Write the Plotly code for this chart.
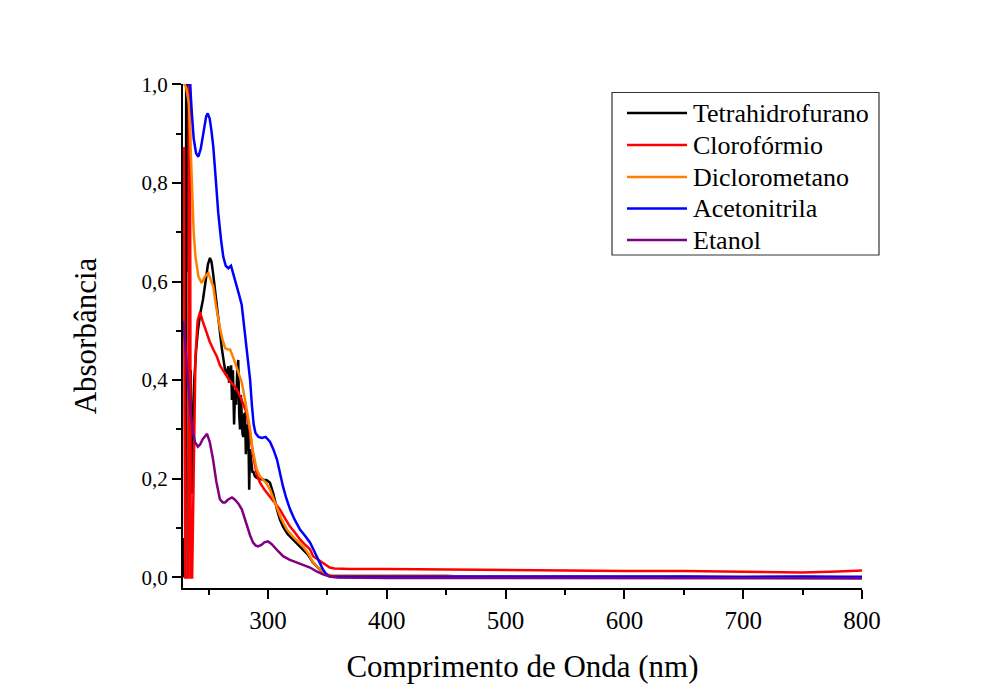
import plotly.graph_objects as go

series_names = ["Tetrahidrofurano", "Clorofórmio", "Diclorometano", "Acetonitrila", "Etanol"]
series_colors = ["#000000", "#FF0000", "#FF8000", "#0000FF", "#800080"]

thf = [(228.6, 0.08), (229.2, 0.0), (229.9, 0.07), (230.5, 0.0), (231.2, 1.0), (231.8, 1.0),
       (232.5, 0.62), (233.1, 1.0), (233.7, 0.95), (234.3, 0.17), (235.0, 0.42), (235.6, 0.20),
       (236.3, 0.17), (237.0, 0.30), (238.0, 0.40), (239.5, 0.46), (241.0, 0.50), (243.0, 0.535),
       (245.3, 0.563), (247.5, 0.60), (249.5, 0.635), (251.2, 0.648), (252.5, 0.640), (253.8, 0.617),
       (256.0, 0.570), (258.0, 0.522), (260.0, 0.485), (261.3, 0.462), (263.0, 0.435), (264.5, 0.412),
       (265.5, 0.415), (266.6, 0.428), (267.3, 0.395), (268.1, 0.40), (269.0, 0.43), (269.7, 0.36),
       (270.5, 0.42), (271.5, 0.31), (272.3, 0.38), (273.2, 0.35), (274.2, 0.42), (275.0, 0.441),
       (275.8, 0.33), (276.5, 0.30), (277.2, 0.37), (277.9, 0.32), (278.6, 0.29), (279.3, 0.285),
       (280.0, 0.33), (280.7, 0.334), (281.4, 0.25), (282.1, 0.28), (282.8, 0.31), (283.5, 0.306),
       (284.2, 0.178), (284.9, 0.26), (285.6, 0.245), (286.3, 0.23), (287.0, 0.212), (287.7, 0.215),
       (289.0, 0.205), (290.5, 0.202), (292.5, 0.200), (294.5, 0.199), (296.5, 0.198), (299.0, 0.197),
       (301.7, 0.192), (304.5, 0.17), (307.6, 0.138), (310.0, 0.118), (312.7, 0.103), (316.5, 0.088),
       (321.0, 0.077), (325.0, 0.067), (329.5, 0.057), (334.0, 0.045), (338.0, 0.030), (342.0, 0.020),
       (346.3, 0.010), (350.0, 0.005), (354.8, 0.002), (360, 0.001), (380, 0.0), (400, 0.0),
       (450, 0.001), (500, 0.0), (550, 0.001), (600, 0.0), (650, 0.001), (700, 0.0), (750, 0.0), (800, 0.001)]

cloroformio = [(228.6, 0.87), (229.3, 0.87), (229.8, 0.33), (230.4, 0.0), (232.8, 0.0), (233.4, 1.0),
               (234.4, 1.0), (235.0, 0.0), (236.2, 0.0), (237.5, 0.25), (239.0, 0.45), (240.8, 0.52),
               (242.8, 0.538), (245.0, 0.52), (248.4, 0.496), (251.0, 0.478), (254.0, 0.462), (257.0, 0.448),
               (259.6, 0.43), (262.5, 0.418), (265.3, 0.407), (268.0, 0.398), (271.0, 0.39), (273.7, 0.381),
               (277.0, 0.365), (280.0, 0.347), (282.0, 0.334), (284.5, 0.30), (287.7, 0.245), (290.5, 0.21),
               (293.3, 0.192), (297.0, 0.178), (301.7, 0.164), (306.0, 0.151), (310.0, 0.138), (314.0, 0.121),
               (318.6, 0.103), (323.0, 0.09), (327.0, 0.077), (331.0, 0.067), (335.4, 0.057), (338.0, 0.043),
               (342.0, 0.036), (346.3, 0.030), (349.0, 0.024), (352.0, 0.020), (356.0, 0.018), (369.0, 0.017),
               (400, 0.017), (450, 0.016), (500, 0.014), (550, 0.014), (600, 0.013), (650, 0.013),
               (700, 0.011), (750, 0.010), (780, 0.012), (800, 0.014)]

diclorometano = [(228.6, 1.0), (230.0, 1.0), (231.5, 0.99), (233.5, 0.96), (234.8, 0.88), (235.8, 0.80),
                 (237.5, 0.70), (239.0, 0.65), (241.5, 0.61), (244.2, 0.597), (247.0, 0.610), (249.8, 0.617),
                 (252.5, 0.60), (254.0, 0.59), (256.0, 0.555), (258.0, 0.525), (259.6, 0.505), (262.0, 0.48),
                 (264.0, 0.465), (266.4, 0.462), (268.1, 0.462), (270.6, 0.447), (273.0, 0.43), (275.5, 0.41),
                 (278.0, 0.395), (280.7, 0.36), (283.0, 0.33), (285.0, 0.30), (287.0, 0.26), (290.5, 0.219),
                 (293.3, 0.205), (296.1, 0.198), (299.0, 0.19), (301.7, 0.178), (304.5, 0.16), (307.6, 0.144),
                 (311.0, 0.12), (316.0, 0.097), (322.0, 0.08), (329.5, 0.063), (334.0, 0.048), (338.0, 0.030),
                 (341.0, 0.022), (344.0, 0.016), (347.0, 0.010), (349.7, 0.006), (355, 0.004), (370, 0.004),
                 (400, 0.004), (450, 0.004), (460, 0.002), (500, 0.002), (600, 0.002), (700, 0.001),
                 (750, 0.002), (800, 0.001)]

acetonitrila = [(231.5, 1.0), (234.5, 1.0), (235.8, 0.947), (237.5, 0.89), (239.5, 0.86), (241.4, 0.853),
                (243.5, 0.87), (246.0, 0.91), (248.0, 0.935), (249.3, 0.941), (251.0, 0.93), (252.5, 0.905),
                (254.0, 0.873), (256.0, 0.81), (258.2, 0.738), (260.5, 0.685), (262.4, 0.650), (264.5, 0.632),
                (266.6, 0.627), (268.9, 0.632), (271.0, 0.615), (273.7, 0.59), (275.5, 0.575), (277.9, 0.553),
                (279.3, 0.52), (282.1, 0.46), (285.0, 0.40), (286.6, 0.346), (288.0, 0.31), (289.5, 0.293),
                (292.0, 0.285), (295.0, 0.283), (298.0, 0.285), (301.7, 0.275), (304.5, 0.26), (307.6, 0.239),
                (310.0, 0.21), (312.7, 0.184), (315.5, 0.16), (318.6, 0.138), (322.5, 0.117), (327.0, 0.097),
                (331.0, 0.085), (335.4, 0.071), (338.0, 0.058), (341.0, 0.043), (343.5, 0.030), (346.3, 0.016),
                (349.0, 0.007), (352.0, 0.002), (360, 0.002), (400, 0.002), (450, 0.002), (500, 0.002),
                (550, 0.003), (600, 0.002), (650, 0.002), (700, 0.001), (750, 0.002), (800, 0.001)]

etanol = [(228.6, 0.52), (229.5, 0.50), (230.5, 0.47), (232.0, 0.42), (233.5, 0.37), (235.0, 0.33),
          (236.5, 0.30), (238.5, 0.275), (241.0, 0.265), (243.0, 0.27), (245.0, 0.28), (248.7, 0.291),
          (251.0, 0.275), (253.8, 0.239), (256.5, 0.195), (259.6, 0.158), (262.0, 0.152), (263.9, 0.152),
          (266.5, 0.158), (269.7, 0.162), (272.0, 0.158), (275.0, 0.15), (278.0, 0.138), (280.0, 0.122),
          (282.4, 0.103), (285.0, 0.085), (287.4, 0.071), (289.5, 0.065), (291.6, 0.063), (294.5, 0.066),
          (297.0, 0.071), (300.0, 0.073), (303.0, 0.068), (306.0, 0.061), (309.0, 0.052), (312.7, 0.043),
          (318.0, 0.036), (324.5, 0.030), (330.0, 0.025), (335.4, 0.020), (341.0, 0.012), (346.3, 0.006),
          (352.0, 0.002), (358.0, 0.0), (400, -0.001), (450, -0.001), (500, -0.001), (550, -0.002),
          (600, -0.001), (650, -0.002), (700, -0.002), (750, -0.002), (800, -0.002)]

x_ticks = [300, 400, 500, 600, 700, 800]
y_ticks = [0.0, 0.2, 0.4, 0.6, 0.8, 1.0]

all_series = [thf, cloroformio, diclorometano, acetonitrila, etanol]

W, H = 987, 700
ML, MR, MT, MB = 183, 125, 84, 112
PW, PH = W - ML - MR, H - MT - MB


def px_x(px):
    return (px - ML) / PW


def px_y(py):
    return (H - MB - py) / PH


fig = go.Figure()
for name, color, data in zip(series_names, series_colors, all_series):
    xs = [p[0] for p in data]
    ys = [p[1] for p in data]
    fig.add_trace(go.Scatter(x=xs, y=ys, mode="lines", name=name, showlegend=False,
                             line=dict(color=color, width=2.5)))

font_family = "Liberation Serif"

# Legend drawn as a framed box with line samples and labels
shapes = [dict(type="rect", xref="paper", yref="paper",
               x0=px_x(612), x1=px_x(879), y0=px_y(255), y1=px_y(92.5),
               line=dict(color="#333333", width=1.2), fillcolor="white", layer="above")]
annotations = []
row_y = [113, 145, 177, 208.5, 240]
for name, color, ry in zip(series_names, series_colors, row_y):
    shapes.append(dict(type="line", xref="paper", yref="paper",
                       x0=px_x(627), x1=px_x(687), y0=px_y(ry), y1=px_y(ry),
                       line=dict(color=color, width=2.5), layer="above"))
    annotations.append(dict(xref="paper", yref="paper", x=px_x(691), y=px_y(ry),
                            xanchor="left", yanchor="middle", showarrow=False, text=name,
                            font=dict(family=font_family, size=26, color="black")))

fig.update_layout(
    width=W, height=H,
    paper_bgcolor="white", plot_bgcolor="white",
    margin=dict(l=ML, r=MR, t=MT, b=MB),
    separators=",.",
    font=dict(family=font_family, color="black"),
    showlegend=False,
    shapes=shapes,
    annotations=annotations,
)

fig.update_xaxes(
    range=[228.5, 800], tickvals=x_ticks,
    showline=True, linecolor="black", linewidth=2, mirror=False,
    showgrid=False, zeroline=False,
    ticks="outside", ticklen=9, tickwidth=2, tickcolor="black",
    tickfont=dict(family=font_family, size=25, color="black"),
    minor=dict(dtick=50, tick0=0, ticks="outside", ticklen=5, tickwidth=2, tickcolor="black", showgrid=False),
    title=dict(text="Comprimento de Onda (nm)", font=dict(family=font_family, size=31, color="black"), standoff=22),
)

fig.update_yaxes(
    range=[-0.0215, 1.0005], tickvals=y_ticks, tickformat=".1f",
    showline=True, linecolor="black", linewidth=2, mirror=False,
    showgrid=False, zeroline=False,
    ticks="outside", ticklen=9, tickwidth=2, tickcolor="black",
    tickfont=dict(family=font_family, size=21, color="black"),
    minor=dict(dtick=0.1, tick0=0, ticks="outside", ticklen=5, tickwidth=2, tickcolor="black", showgrid=False),
    title=dict(text="Absorbância", font=dict(family=font_family, size=31, color="black"), standoff=36),
)

fig.write_html("out.html")
